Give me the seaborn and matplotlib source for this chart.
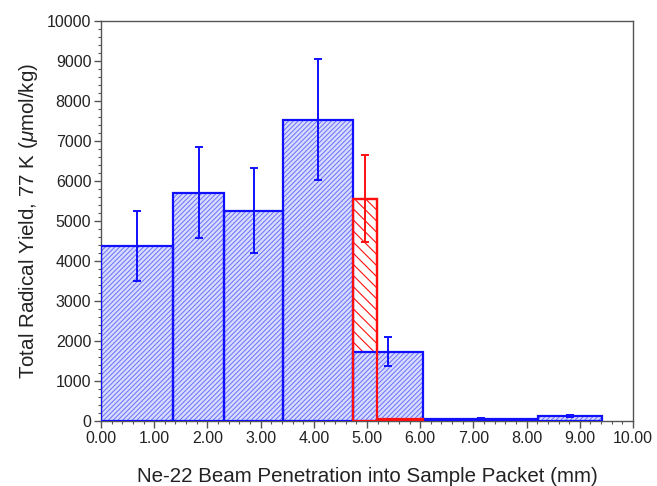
import matplotlib
matplotlib.use("Agg")
import matplotlib.pyplot as plt
import matplotlib.ticker as mticker
import numpy as np
import seaborn as sns

# Bin edges along the beam penetration depth (mm) and yields per bin
blue_edges = [0.00, 1.35, 2.32, 3.43, 4.74, 6.06, 8.22, 9.42]
blue_yield = [4380, 5710, 5260, 7530, 1735, 60, 125]
blue_err = [880, 1145, 1055, 1510, 355, 25, 35]

red_edges = [4.74, 5.18, 6.06]
red_yield = [5560, 50]
red_err = [1080, 0]

xticks = [0, 1, 2, 3, 4, 5, 6, 7, 8, 9, 10]
yticks = [0, 1000, 2000, 3000, 4000, 5000, 6000, 7000, 8000, 9000, 10000]

BLUE = "#1010ff"
BLUE_HATCH = "#6870ff"
RED = "#ff1010"

sns.set_style("ticks")
plt.rcParams["font.family"] = ["Liberation Sans", "DejaVu Sans"]
plt.rcParams["mathtext.fontset"] = "custom"
plt.rcParams["mathtext.rm"] = "Liberation Sans"
plt.rcParams["mathtext.it"] = "Liberation Sans:italic"

fig = plt.figure(figsize=(6.57, 4.86), dpi=100)
ax = fig.add_axes([0.1537, 0.1337, 0.8098, 0.8231])


def centers(edges):
    e = np.asarray(edges)
    return (e[:-1] + e[1:]) / 2


# Red series underneath (filled, hatched)
plt.rcParams["hatch.linewidth"] = 0.8
sns.histplot(x=centers(red_edges), weights=red_yield, bins=red_edges, ax=ax,
             element="bars", fill=True, facecolor="white", edgecolor=RED,
             hatch="\\\\\\", linewidth=1.6, alpha=1, zorder=1)

# Blue series fill with fine, lighter hatching
plt.rcParams["hatch.linewidth"] = 0.7
sns.histplot(x=centers(blue_edges), weights=blue_yield, bins=blue_edges, ax=ax,
             element="bars", fill=True, facecolor="#d8dbfd",
             edgecolor=BLUE_HATCH, hatch="///////", linewidth=0, alpha=1,
             zorder=2)

# Blue outlines
sns.histplot(x=centers(blue_edges), weights=blue_yield, bins=blue_edges, ax=ax,
             element="bars", fill=False, color=BLUE, linewidth=1.6, alpha=1,
             zorder=3)

# Red outlines on top
sns.histplot(x=centers(red_edges), weights=red_yield, bins=red_edges, ax=ax,
             element="bars", fill=False, color=RED, linewidth=1.6, alpha=1,
             zorder=3.5)

ax.errorbar(centers(blue_edges), blue_yield, yerr=blue_err, fmt="none",
            ecolor=BLUE, elinewidth=1.4, capsize=3.2, capthick=1.4, zorder=4)
ax.errorbar(centers(red_edges)[:1], red_yield[:1], yerr=red_err[:1], fmt="none",
            ecolor=RED, elinewidth=1.4, capsize=3.2, capthick=1.4, zorder=4)

ax.set_xlim(0, 10)
ax.set_ylim(0, 10000)
ax.set_xticks(xticks)
ax.set_yticks(yticks)
ax.xaxis.set_major_formatter(mticker.FormatStrFormatter("%.2f"))
ax.yaxis.set_major_formatter(mticker.FormatStrFormatter("%d"))
ax.xaxis.set_minor_locator(mticker.MultipleLocator(0.2))
ax.yaxis.set_minor_locator(mticker.MultipleLocator(200))

ax.tick_params(which="major", direction="out", length=5, width=1,
               color="#555555", labelsize=11.5, labelcolor="#222222", pad=2)
ax.tick_params(which="minor", direction="out", length=2.5, width=0.8,
               color="#555555")

for side in ["left", "right", "top", "bottom"]:
    ax.spines[side].set_visible(True)
    ax.spines[side].set_color("#555555")
    ax.spines[side].set_linewidth(1.0)

ax.set_xlabel("Ne-22 Beam Penetration into Sample Packet (mm)", fontsize=14.8,
              color="#222222", labelpad=15)
ax.set_ylabel(r"Total Radical Yield, 77 K ($\mu$mol/kg)", fontsize=14.8,
              color="#222222", labelpad=5)

fig.savefig("out.png", dpi=100)
